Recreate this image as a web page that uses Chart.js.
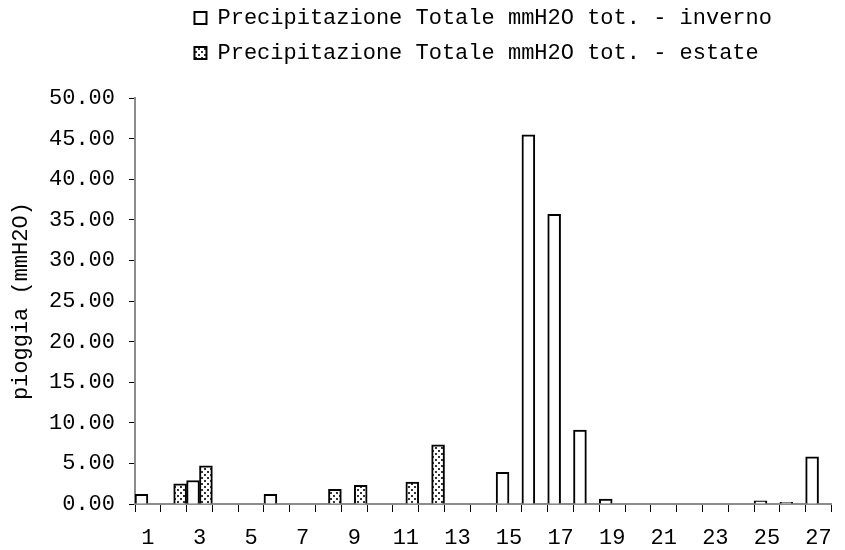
<!DOCTYPE html>
<html>
<head>
<meta charset="utf-8">
<script src="https://cdn.jsdelivr.net/npm/chart.js@4/dist/chart.umd.min.js"></script>
<style>
  html, body { margin: 0; padding: 0; background: #fff; }
  #wrap { width: 845px; height: 550px; }
</style>
</head>
<body>
<div id="wrap"><canvas id="grafico"></canvas></div>
<script>
const categorie = ['1','2','3','4','5','6','7','8','9','10','11','12','13','14',
                   '15','16','17','18','19','20','21','22','23','24','25','26','27'];

const inverno = [1.2, null, 2.9, null, null, 1.2, null, null, null, null, null, null, null, null,
                 3.9, 45.5, 35.7, 9.1, 0.6, null, null, null, null, null, 0.4, 0.2, 5.8];

const estate = [null, 2.5, 4.7, null, null, null, null, 1.8, 2.3, null, 2.7, 7.3, null, null,
                null, null, null, null, null, null, null, null, null, null, null, null, null];

const etichette = [
    'Precipitazione Totale mmH2O tot. - inverno',
    'Precipitazione Totale mmH2O tot. - estate ' // spazio finale per allineare le righe
];

const fontMono = "'Liberation Mono', 'Courier New', monospace";

// retino a puntini per la serie estate
function puntini() {
    const c = document.createElement('canvas');
    c.width = 6;
    c.height = 6;
    const g = c.getContext('2d');
    g.fillStyle = '#fff';
    g.fillRect(0, 0, 6, 6);
    g.fillStyle = '#333';
    g.fillRect(0, 0, 2, 2);
    g.fillRect(3, 3, 2, 2);
    return g.createPattern(c, 'repeat');
}

const ctx = document.getElementById('grafico');

new Chart(ctx, {
    type: 'bar',
    data: {
        labels: categorie,
        datasets: [{
            label: etichette[0],
            data: inverno,
            backgroundColor: '#ffffff',
            borderColor: '#000',
            borderWidth: 2
        }, {
            label: etichette[1],
            data: estate,
            backgroundColor: puntini(),
            borderColor: '#000',
            borderWidth: 2
        }]
    },
    options: {
        responsive: true,
        maintainAspectRatio: false,
        animation: false,
        datasets: {
            bar: {
                categoryPercentage: 1.0,
                barPercentage: 1.0
            }
        },
        layout: {
            padding: { top: -6, right: 3, bottom: 0, left: 0 }
        },
        plugins: {
            tooltip: { enabled: false },
            legend: {
                position: 'top',
                fullSize: false,
                align: 'center',
                labels: {
                    boxWidth: 12,
                    boxHeight: 12,
                    padding: 13,
                    color: '#000',
                    font: { family: fontMono, size: 22 }
                }
            },
            // spazio vuoto tra legenda e grafico
            subtitle: {
                display: true,
                text: ' ',
                position: 'top',
                weight: 500,
                font: { size: 1 },
                padding: { top: 12, bottom: 11 }
            }
        },
        scales: {
            x: {
                grid: {
                    drawOnChartArea: false,
                    drawTicks: true,
                    tickLength: 8,
                    color: '#000'
                },
                border: { color: '#8c8c8c', width: 2 },
                ticks: {
                    autoSkip: false,
                    maxRotation: 0,
                    color: '#000',
                    padding: 13,
                    font: { family: fontMono, size: 22 },
                    callback: function (v, i) {
                        return i % 2 === 0 ? this.getLabelForValue(v) : '';
                    }
                },
                afterFit: function (scale) { scale.height = 46; }
            },
            y: {
                min: 0,
                max: 50,
                grid: {
                    drawOnChartArea: false,
                    drawTicks: true,
                    tickLength: 6,
                    color: '#000'
                },
                border: { color: '#8c8c8c', width: 2 },
                ticks: {
                    stepSize: 5,
                    color: '#000',
                    padding: 14,
                    font: { family: fontMono, size: 22 },
                    callback: v => v.toFixed(2)
                },
                title: {
                    display: true,
                    text: 'pioggia (mmH2O)',
                    color: '#000',
                    font: { family: fontMono, size: 22, weight: 'normal' },
                    padding: { top: 8, bottom: 0 }
                },
                afterFit: function (scale) { scale.width = 135; }
            }
        }
    }
});
</script>
</body>
</html>
